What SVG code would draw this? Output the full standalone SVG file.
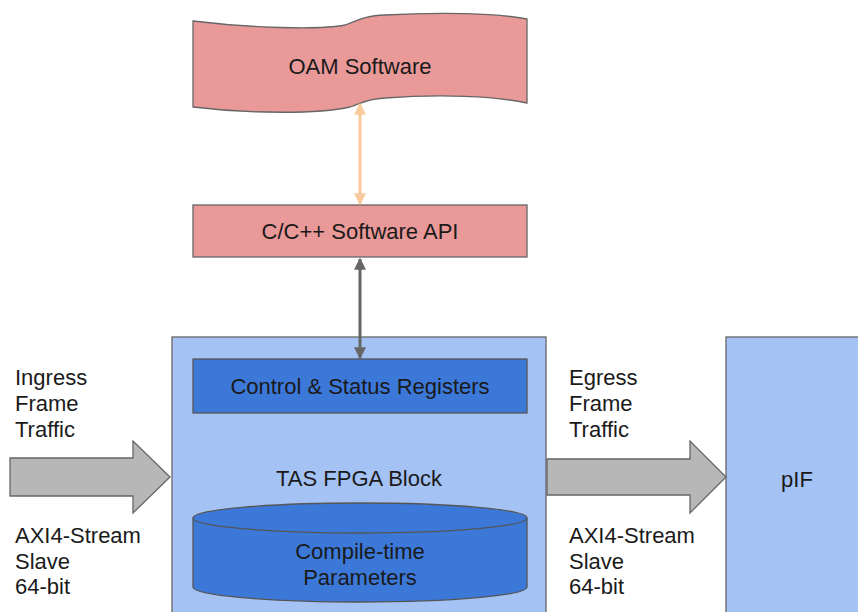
<svg xmlns="http://www.w3.org/2000/svg" width="858" height="612" viewBox="0 0 858 612">
<defs>
<style>
text{font-family:"Liberation Sans",Arial,sans-serif;font-size:22px;fill:#1a1a1a}
.c{text-anchor:middle}
.red{fill:#ea9999;stroke:#666;stroke-width:1.3}
.lb{fill:#a4c2f4;stroke:#666;stroke-width:1.3}
.db{fill:#3c78d8;stroke:#555;stroke-width:1.3}
.ga{fill:#b7b7b7;stroke:#666;stroke-width:1.3}
</style>
<marker id="ao" viewBox="0 0 10 10" refX="9" refY="5" markerWidth="4" markerHeight="4" orient="auto-start-reverse"><path d="M0,0 L10,5 L0,10 z" fill="#f9cb9c"/></marker>
<marker id="ag" viewBox="0 0 10 10" refX="9" refY="5" markerWidth="4" markerHeight="4" orient="auto-start-reverse"><path d="M0,0 L10,5 L0,10 z" fill="#666"/></marker>
</defs>
<rect width="858" height="612" fill="#fff"/>
<g id="oam">
<path class="red" d="M193,21 C250,28 320,30 345,25 C358,21 362,16 385,15 C440,12 495,13 527,19 L527,103 C495,96 440,94 385,98 C365,99 360,104 350,107 C320,114 250,114 193,107 Z"/>
<text class="c" x="360" y="74">OAM Software</text>
</g>
<g id="api">
<rect class="red" x="193" y="205" width="334" height="52"/>
<text class="c" x="360" y="239">C/C++ Software API</text>
</g>
<g id="tas">
<rect class="lb" x="172" y="337" width="374" height="290"/>
<text class="c" x="359" y="486">TAS FPGA Block</text>
</g>
<g id="csr">
<rect class="db" x="193" y="359" width="334" height="54"/>
<text class="c" x="360" y="394">Control &amp; Status Registers</text>
</g>
<g id="params">
<path class="db" d="M193,518 L193,587 A167,15 0 0 0 527,587 L527,518"/>
<ellipse class="db" cx="360" cy="518" rx="167" ry="15"/>
<text class="c" x="360" y="559">Compile-time</text>
<text class="c" x="360" y="585">Parameters</text>
</g>
<g id="pif">
<rect class="lb" x="726" y="337" width="140" height="290"/>
<text class="c" x="797" y="487">pIF</text>
</g>
<g id="ingress">
<path class="ga" d="M10,458 L133,458 L133,441 L170,477 L133,513 L133,496 L10,496 Z"/>
<text x="15" y="385">Ingress</text>
<text x="15" y="411">Frame</text>
<text x="15" y="437">Traffic</text>
<text x="15" y="543">AXI4-Stream</text>
<text x="15" y="569">Slave</text>
<text x="15" y="594">64-bit</text>
</g>
<g id="egress">
<path class="ga" d="M547,459 L690,459 L690,441 L726,477 L690,513 L690,495 L547,495 Z"/>
<text x="569" y="385">Egress</text>
<text x="569" y="411">Frame</text>
<text x="569" y="437">Traffic</text>
<text x="569" y="543">AXI4-Stream</text>
<text x="569" y="569">Slave</text>
<text x="569" y="594">64-bit</text>
</g>
<g id="connectors">
<line x1="360" y1="104" x2="360" y2="204" stroke="#f9cb9c" stroke-width="3" marker-start="url(#ao)" marker-end="url(#ao)"/>
<line x1="360" y1="259" x2="360" y2="358" stroke="#666" stroke-width="3" marker-start="url(#ag)" marker-end="url(#ag)"/>
</g>
</svg>
